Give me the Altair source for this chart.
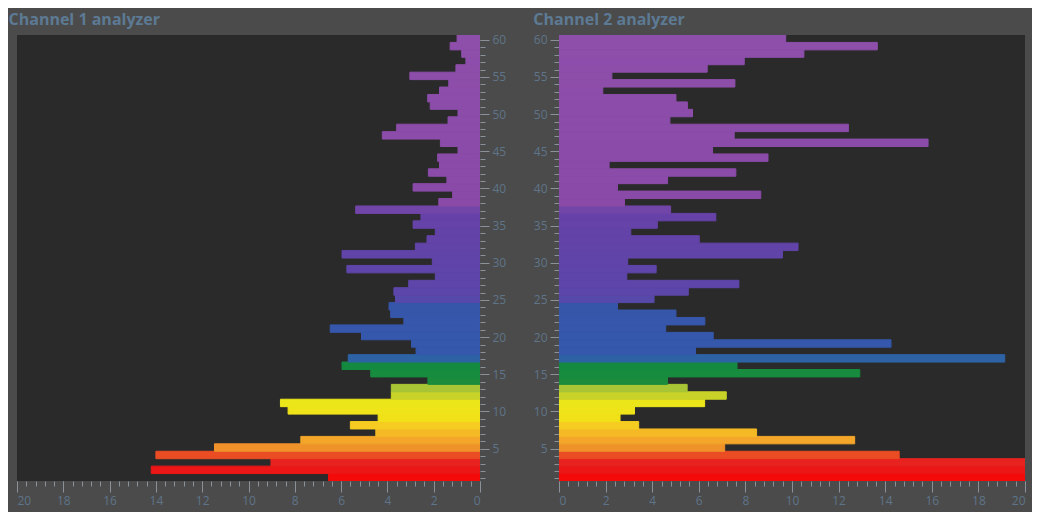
import altair as alt
import pandas as pd

# Frequency bins (1 = bottom row, 60 = top row)
bins = list(range(1, 61))

# Channel 1 levels, bin 1 .. 60
ch1_levels = [6.54, 14.2, 9.03, 14.0, 11.47, 7.74, 4.5, 5.6, 4.4, 8.29,
              8.62, 3.83, 3.83, 2.25, 4.72, 5.96, 5.69, 2.76, 2.96, 5.12,
              6.47, 3.29, 3.86, 3.93, 3.65, 3.72, 3.08, 1.93, 5.75, 2.06,
              5.96, 2.79, 2.29, 1.93, 2.89, 2.55, 5.37, 1.78, 1.18, 2.89,
              1.43, 2.23, 1.75, 1.83, 0.95, 1.71, 4.22, 3.6, 1.38, 0.95,
              2.15, 2.26, 1.75, 1.35, 3.03, 1.04, 0.61, 0.79, 1.29, 0.99]

# Channel 2 levels, bin 1 .. 60
ch2_levels = [20, 20, 20, 14.6, 7.11, 12.69, 8.48, 3.42, 2.62, 3.24,
              6.25, 7.18, 5.5, 4.66, 12.91, 7.64, 19.13, 5.86, 14.25, 6.62,
              4.58, 6.26, 5.02, 2.51, 4.08, 5.55, 7.72, 2.91, 4.17, 2.95,
              9.59, 10.26, 6.02, 3.08, 4.22, 6.73, 4.79, 2.81, 8.66, 2.51,
              4.66, 7.59, 2.15, 8.97, 6.59, 15.84, 7.52, 12.42, 4.76, 5.73,
              5.51, 5.02, 1.88, 7.55, 2.27, 6.36, 7.95, 10.51, 13.66, 9.73]

# Spectrum colour stops (by bin)
spectrum_stops = [1, 2.5, 3.5, 4.3, 5, 6.5, 8, 9, 11, 12, 13, 14, 16, 16.8, 17.5, 24, 25.2, 36.5, 38, 60]
spectrum_colors = ["#f50a0a", "#e81c1e", "#e62820", "#ec6224", "#f0922a", "#f4b028",
                   "#f6cc22", "#f0e118", "#ebe61a", "#c8d228", "#a8c535", "#1a8c3c",
                   "#148a40", "#2a68a0", "#3558ad", "#3656aa", "#5c46a9", "#6642a8",
                   "#8a4aa8", "#8e4fab"]

# Axis tick values
major_x = [0, 2, 4, 6, 8, 10, 12, 14, 16, 18, 20]
minor_x = [round(i * 0.4, 1) for i in range(51)]
major_y = [5, 10, 15, 20, 25, 30, 35, 40, 45, 50, 55, 60]
minor_y = list(range(1, 61))

LABEL_COLOR = "#5e7489"
TICK_COLOR = "#8a9198"
TITLE_COLOR = "#5d7a94"
FONT = "Open Sans"


def panel(levels, title, reverse, orient, width, dx):
    df = pd.DataFrame({"bin": bins, "level": levels})
    base = alt.Chart(df).transform_calculate(
        lo="datum.bin - 0.35", hi="datum.bin + 0.65"
    )
    xs = alt.Scale(domain=[0, 20], reverse=reverse, nice=False, zero=True)
    ys = alt.Scale(domain=[0.65, 60.65], nice=False, zero=False)
    cs = alt.Scale(domain=spectrum_stops, range=spectrum_colors, interpolate="rgb")

    bars = base.mark_bar(clip=True, strokeWidth=1).encode(
        x=alt.X("level:Q", scale=xs, title=None,
                axis=alt.Axis(values=major_x, orient="bottom", tickSize=11,
                              labelPadding=3, format="d")),
        x2=alt.datum(0),
        y=alt.Y("lo:Q", scale=ys, title=None,
                axis=alt.Axis(values=major_y, orient=orient, tickSize=9,
                              labelPadding=3, format="d")),
        y2="hi:Q",
        color=alt.Color("bin:Q", scale=cs, legend=None),
        stroke=alt.Stroke("bin:Q", scale=cs, legend=None),
    )
    minor = base.mark_bar(opacity=0, clip=True).encode(
        x=alt.X("level:Q", scale=xs, title=None,
                axis=alt.Axis(values=minor_x, orient="bottom", tickSize=5, labels=False)),
        x2=alt.datum(0),
        y=alt.Y("lo:Q", scale=ys, title=None,
                axis=alt.Axis(values=minor_y, orient=orient, tickSize=5, labels=False)),
        y2="hi:Q",
    )
    return alt.layer(bars, minor).resolve_axis(x="independent", y="independent").properties(
        width=width, height=446,
        title=alt.TitleParams(title, anchor="start", frame="bounds", dx=dx, offset=6,
                              font=FONT, fontSize=16, fontWeight="bold", color=TITLE_COLOR),
    )


left = panel(ch1_levels, "Channel 1 analyzer", True, "right", 463, -8)
right = panel(ch2_levels, "Channel 2 analyzer", False, "left", 466, 0)

chart = alt.hconcat(left, right, spacing=27).properties(
    background="#4b4b4b",
    padding={"left": 0, "top": 3, "right": 6, "bottom": 6},
).configure_view(fill="#2a2a2a", stroke=None).configure_axis(
    grid=False, domain=False, tickColor=TICK_COLOR, tickWidth=1,
    labelColor=LABEL_COLOR, labelFont=FONT, labelFontSize=12,
)

chart.save("out.html", embed_options={"renderer": "svg", "actions": False})
